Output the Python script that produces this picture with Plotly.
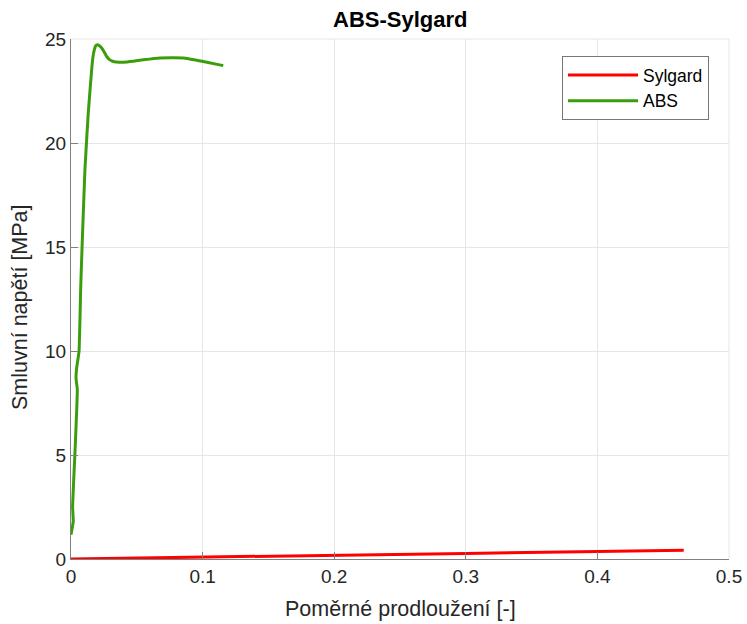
import plotly.graph_objects as go

# Data
sylgard_strain = [0.0, 0.05, 0.1, 0.2, 0.3, 0.4, 0.4656]
sylgard_stress = [0.0, 0.04, 0.09, 0.18, 0.27, 0.36, 0.42]

abs_strain = [0.0, 0.0017, 0.0012, 0.003, 0.0048, 0.0038, 0.0043, 0.0061, 0.0074, 0.0086,
              0.0106, 0.0131, 0.0157, 0.0166, 0.0177, 0.0188, 0.0200, 0.0215, 0.0233,
              0.0250, 0.0271, 0.0290, 0.0321, 0.0370, 0.0422, 0.0549, 0.0676, 0.0853,
              0.1005, 0.1157]
abs_stress = [1.17, 1.81, 2.53, 5.1, 8.14, 8.7, 9.18, 9.98, 13.1, 15.35,
              18.73, 21.44, 23.52, 24.1, 24.48, 24.68, 24.72, 24.68, 24.57,
              24.4, 24.16, 24.02, 23.92, 23.88, 23.89, 24.0, 24.09, 24.09,
              23.92, 23.72]

x_ticks = [0, 0.1, 0.2, 0.3, 0.4, 0.5]
x_tick_labels = ["0", "0.1", "0.2", "0.3", "0.4", "0.5"]
y_ticks = [0, 5, 10, 15, 20, 25]

title_text = "ABS-Sylgard"
x_title = "Poměrné prodloužení [-]"
y_title = "Smluvní napětí [MPa]"

FONT = "Liberation Sans, Arial, sans-serif"
W, H = 747, 624
L, R, T, B = 71, 18, 39, 65

fig = go.Figure()
fig.add_trace(go.Scatter(x=sylgard_strain, y=sylgard_stress, mode="lines", name="Sylgard",
                         line=dict(color="#ff0000", width=3)))
fig.add_trace(go.Scatter(x=abs_strain, y=abs_stress, mode="lines", name="ABS",
                         line=dict(color="#3a9e0c", width=3, shape="spline", smoothing=0.3)))

axis_common = dict(showgrid=True, gridcolor="#e6e6e6", gridwidth=1, zeroline=False,
                   showline=True, linecolor="#808080", linewidth=1, mirror=False,
                   ticks="inside", ticklen=7, tickcolor="#808080",
                   automargin=False,
                   tickfont=dict(family=FONT, size=19, color="#262626"))

ph = H - T - B
pw = W - L - R

fig.update_layout(
    width=W, height=H,
    paper_bgcolor="white", plot_bgcolor="white",
    margin=dict(l=L, r=R, t=T, b=B, autoexpand=False),
    xaxis=dict(range=[0, 0.5], tickvals=x_ticks, ticktext=x_tick_labels, **axis_common),
    yaxis=dict(range=[0, 25], tickvals=y_ticks, **axis_common),
    legend=dict(x=(562 - L) / pw, y=1 - (56 - T) / ph, xanchor="left", yanchor="top",
                bgcolor="white", bordercolor="#777777", borderwidth=1,
                itemwidth=70, font=dict(family=FONT, size=17.5, color="black"),
                tracegroupgap=0),
    showlegend=True,
    annotations=[
        dict(text="<b>" + title_text + "</b>", xref="paper", yref="paper",
             x=0.5, y=1 + (T - 20) / ph, xanchor="center", yanchor="middle",
             showarrow=False, font=dict(family=FONT, size=22, color="black")),
        dict(text=x_title, xref="paper", yref="paper",
             x=0.5, y=-(609 - (H - B)) / ph, xanchor="center", yanchor="middle",
             showarrow=False, font=dict(family=FONT, size=21.5, color="#262626")),
        dict(text=y_title, xref="paper", yref="paper", textangle=-90,
             x=-(L - 20) / pw, y=1 - (307 - T) / ph, xanchor="center", yanchor="middle",
             showarrow=False, font=dict(family=FONT, size=21.5, color="#262626")),
    ],
)

# light box on top and right
fig.add_shape(type="line", xref="paper", yref="paper", x0=0, x1=1, y0=1, y1=1,
              line=dict(color="#e6e6e6", width=1))
fig.add_shape(type="line", xref="paper", yref="paper", x0=1, x1=1, y0=0, y1=1,
              line=dict(color="#e6e6e6", width=1))

fig.write_html("out.html", config={"displayModeBar": False},
               post_script="document.body.style.margin='0';document.body.style.overflow='hidden';")
